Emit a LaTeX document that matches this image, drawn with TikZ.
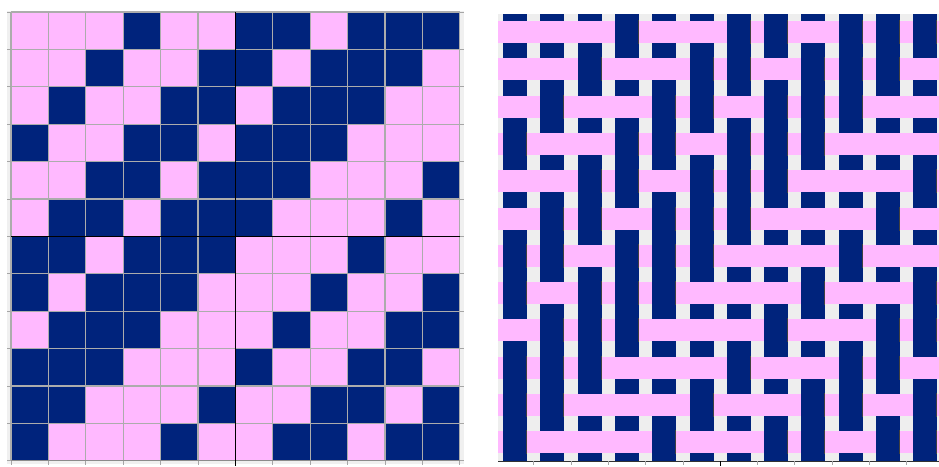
\documentclass[tikz,border=0pt]{standalone}
\usepackage{tikz}
\usetikzlibrary{calc}
\definecolor{navy}{HTML}{00237C}
\definecolor{rose}{HTML}{FFB9FF}
\definecolor{loom}{HTML}{EEEEEE}

\begin{document}
\begin{tikzpicture}[x=0.03cm, y=-0.03cm,
  cellup/.style={fill=navy},
  celldown/.style={fill=rose},
  gridline/.style={draw=gray!65, line width=0.036cm},
  midline/.style={draw=black, line width=0.05cm},
  tickmark/.style={draw=gray!70, line width=0.03cm},
  warp/.style={fill=navy},
  weft/.style={fill=rose},
  shade/.style={draw=black!75, line width=0.03cm}
]
\useasboundingbox (0,0) rectangle (939,466);

% draft (left)
\fill[gray!12] (7,11) rectangle (464,464);
\foreach \r in {0,...,11}
  \foreach \c in {0,...,11}{
    \pgfmathtruncatemacro\up{{0,0,0,1,0,0,1,1,0,1,1,1}[mod(\c+\r,12)]}
    \ifnum\up=1
      \fill[cellup] (11+37.4*\c, 12+37.4*\r) rectangle ++(37.4,37.4);
    \else
      \fill[celldown] (11+37.4*\c, 12+37.4*\r) rectangle ++(37.4,37.4);
    \fi
  }
\foreach \k in {0,...,12}{
  \draw[gridline] (11+37.4*\k, 12) -- (11+37.4*\k, 460.8);
  \draw[gridline] (11, 12+37.4*\k) -- (459.8, 12+37.4*\k);
  \draw[tickmark] (7, 12+37.4*\k) -- (11, 12+37.4*\k);
  \draw[tickmark] (460, 12+37.4*\k) -- (464, 12+37.4*\k);
  \draw[tickmark] (11+37.4*\k, 461) -- (11+37.4*\k, 465);
}
\draw[draw=gray!90, line width=0.036cm] (11, 460.8) -- (459.8, 460.8);
\draw[midline] (235.4, 12) -- (235.4, 466);
\draw[midline] (11, 236.4) -- (459.8, 236.4);

% woven cloth (right)
\begin{scope}
  \clip (498,14) rectangle (939,461);
  \fill[loom] (498,14) rectangle (939,461);
  \foreach \c in {0,...,11}
    \fill[warp] (503+37.3*\c, 14) rectangle ++(24, 447);
  \foreach \r in {0,...,11}
    \fill[weft] (498, 21+37.3*\r) rectangle ++(441, 22);
  \foreach \r in {0,...,11}
    \foreach \c in {0,...,11}{
      \pgfmathtruncatemacro\up{{0,0,0,1,0,0,1,1,0,1,1,1}[mod(\c+\r,12)]}
      \ifnum\up=1
        \fill[warp] (503+37.3*\c, 19+37.3*\r) rectangle ++(24, 26);
        \draw[shade] (526.5+37.3*\c, 20+37.3*\r) -- ++(0, 24);
      \fi
    }
\end{scope}
\draw[draw=black!80, line width=0.03cm] (498,461) -- (939,461);
\foreach \k in {1,...,11}
  \draw[tickmark] (496.5+37.3*\k, 461) -- ++(0, 4);
\draw[draw=black, line width=0.04cm] (720.3, 461) -- ++(0, 5);
\end{tikzpicture}
\end{document}
